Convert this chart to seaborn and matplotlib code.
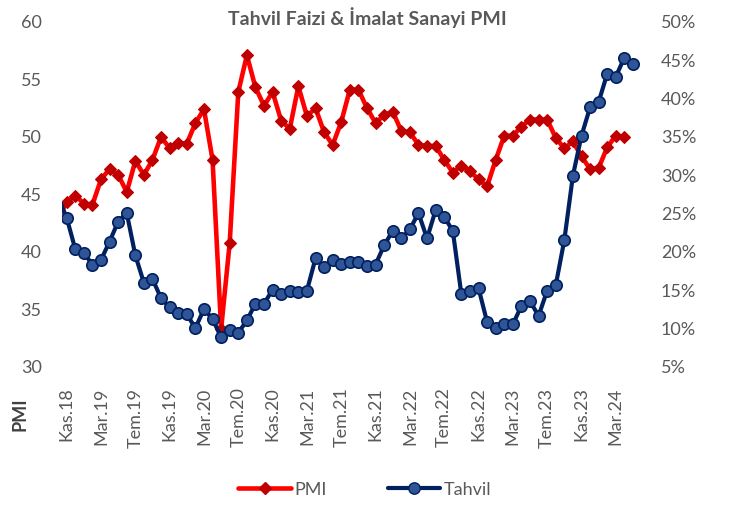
import numpy as np
import pandas as pd
import matplotlib
matplotlib.use("Agg")
import matplotlib.pyplot as plt
import seaborn as sns
from matplotlib.lines import Line2D

# ---- data ----
month_names = ["Oca", "Şub", "Mar", "Nis", "May", "Haz", "Tem", "Ağu", "Eyl", "Eki", "Kas", "Ara"]
start_year, start_month = 2018, 10  # first (partly hidden) point: Eki.18

pmi = [42.9,
       44.2, 44.8, 44.1, 44.0, 46.2, 47.1, 46.6, 45.1, 47.8, 46.6, 47.9, 49.9,
       48.9, 49.4, 49.3, 51.1, 52.3, 47.9, 33.2, 40.7, 53.8, 57.0, 54.2, 52.6,
       53.8, 51.3, 50.6, 54.3, 51.7, 52.4, 50.3, 49.2, 51.2, 54.0, 54.0, 52.4,
       51.1, 51.8, 52.1, 50.4, 50.3, 49.2, 49.1, 49.1, 47.9, 46.8, 47.4, 46.9,
       46.2, 45.6, 47.9, 50.0, 50.0, 50.8, 51.4, 51.4, 51.4, 49.8, 48.9, 49.5,
       48.2, 47.1, 47.2, 49.0, 50.0, 49.9]

tahvil = [27.0,
          24.3, 20.2, 19.7, 18.2, 18.8, 21.2, 23.8, 24.9, 19.4, 15.8, 16.3, 13.8,
          12.6, 11.9, 11.7, 9.9, 12.4, 11.1, 8.7, 9.7, 9.3, 10.9, 13.1, 13.1,
          14.9, 14.3, 14.8, 14.6, 14.8, 19.0, 17.9, 18.8, 18.3, 18.5, 18.5, 18.0,
          18.2, 20.7, 22.6, 21.6, 22.8, 24.9, 21.6, 25.3, 24.4, 22.6, 14.3, 14.7,
          15.1, 10.7, 9.9, 10.4, 10.4, 12.8, 13.4, 11.5, 14.8, 15.5, 21.4, 29.8,
          35.0, 38.7, 39.4, 43.1, 42.7, 45.2, 44.4]

pmi_ticks = [30, 35, 40, 45, 50, 55, 60]
tahvil_ticks = [5, 10, 15, 20, 25, 30, 35, 40, 45, 50]

# ---- build table ----
n = len(tahvil)
labels = []
y, m = start_year, start_month
for i in range(n):
    labels.append(f"{month_names[m - 1]}.{str(y)[2:]}")
    m += 1
    if m > 12:
        m = 1
        y += 1
pos = np.arange(n) - 1  # Kas.18 at position 0
df = pd.DataFrame({
    "pos": pos,
    "label": labels,
    "PMI": pmi + [np.nan] * (n - len(pmi)),
    "Tahvil": tahvil,
})

# ---- figure ----
sns.set_theme(style="white")
plt.rcParams["font.family"] = ["Lato", "DejaVu Sans"]

W, H = 733, 510
fig = plt.figure(figsize=(W / 100, H / 100), dpi=100)
left_px, right_px, top_px, bottom_px = 62.4, 651, 21.7, 366.7
ax = fig.add_axes([left_px / W, 1 - bottom_px / H, (right_px - left_px) / W, (bottom_px - top_px) / H])
ax2 = ax.twinx()

grey = "#595959"
red_line, red_marker = "#FF0000", "#C00000"
navy, blue_face = "#002060", "#2F5597"

sns.lineplot(data=df, x="pos", y="PMI", ax=ax, color=red_line, lw=3.3,
             marker="D", markersize=6.5, markerfacecolor=red_marker,
             markeredgecolor=red_marker, markeredgewidth=0.8, legend=False,
             markevery=slice(1, None))
sns.lineplot(data=df, x="pos", y="Tahvil", ax=ax2, color=navy, lw=3.0,
             marker="o", markersize=8.2, markerfacecolor=blue_face,
             markeredgecolor=navy, markeredgewidth=1.2, legend=False,
             markevery=slice(1, None))

ax.set_xlim(-0.5, 68.1)
ax.set_ylim(30, 60)
ax2.set_ylim(5, 50)

tick_pos = df["pos"][(df["pos"] >= 0) & (df["pos"] % 4 == 0) & (df["pos"] <= 64)]
ax.set_xticks(tick_pos)
ax.set_xticklabels(df.set_index("pos").loc[tick_pos, "label"], rotation=90,
                   color=grey, fontsize=13)
ax.set_yticks(pmi_ticks)
ax.set_yticklabels([str(v) for v in pmi_ticks], color=grey, fontsize=13)
ax2.set_yticks(tahvil_ticks)
ax2.set_yticklabels([f"{v}%" for v in tahvil_ticks], color=grey, fontsize=13)

ax.tick_params(axis="y", length=0, pad=15)
ax.tick_params(axis="x", length=0, pad=15)
ax2.tick_params(axis="y", length=0, pad=7)

for a in (ax, ax2):
    for s in a.spines.values():
        s.set_visible(False)
    a.grid(False)
    a.set_xlabel("")
    a.set_ylabel("")

fig.text(367 / W, 1 - 18 / H, "Tahvil Faizi & İmalat Sanayi PMI", ha="center", va="center",
         fontsize=14, fontweight="bold", color=grey)
fig.text(20 / W, 1 - 414 / H, "PMI", ha="center", va="center", rotation=90,
         fontsize=13, fontweight="bold", color="#404040")

handles = [
    Line2D([], [], color=red_line, lw=3.3, marker="D", markersize=6.5,
           markerfacecolor=red_marker, markeredgecolor=red_marker),
    Line2D([], [], color=navy, lw=3.0, marker="o", markersize=8.2,
           markerfacecolor=blue_face, markeredgecolor=navy),
]
fig.legend(handles, ["PMI", "Tahvil"], loc="center", bbox_to_anchor=(365 / W, 1 - 490 / H),
           ncol=2, frameon=False, fontsize=13, labelcolor=grey, handlelength=2.9,
           handletextpad=0.2, columnspacing=3.4)

fig.savefig("out.png", dpi=100)
